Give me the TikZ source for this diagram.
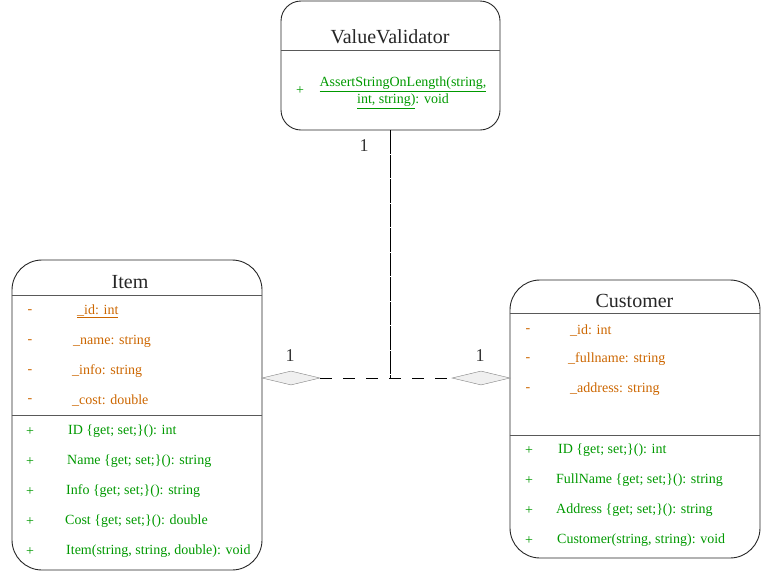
\documentclass[tikz,border=0pt]{standalone}
\usepackage{fontspec}
\setmainfont{Liberation Serif}
\usetikzlibrary{arrows.meta, calc, positioning, shapes.geometric}

\definecolor{attrorange}{HTML}{CC6600}
\definecolor{opgreen}{HTML}{009900}
\definecolor{edgegray}{HTML}{808080}

\tikzset{
  classbox/.style={draw=black!85, line width=0.9pt, inner sep=0pt},
  sepline/.style={draw=black!65, line width=1pt},
  classname/.style={font=\fontsize{20}{23}\selectfont, text=black!85},
  attr/.style={anchor=west, inner sep=0pt, yshift=-1.5pt, font=\fontsize{14}{17}\selectfont, text=attrorange},
  op/.style={attr, text=opgreen},
  vis/.style={anchor=center},
  aggr/.style={diamond, draw=edgegray, fill=gray!12, minimum width=58pt, minimum height=14pt, inner sep=0pt},
  mult/.style={font=\fontsize{18}{20}\selectfont, text=black!80},
  hline/.style={draw=black, line width=0.9pt, dash pattern=on 12pt off 11pt},
  vline/.style={draw=black, line width=0.9pt, dash pattern=on 23.5pt off 1pt},
}

\begin{document}
\begin{tikzpicture}[x=1pt, y=-1pt]

  \useasboundingbox (0,0) rectangle (770,571);

  % class boxes
  \node[classbox, rounded corners=20pt, minimum width=219pt, minimum height=129pt] (validator) at (390.5,65.5) {};
  \node[classbox, rounded corners=30pt, minimum width=250pt, minimum height=310pt] (item) at (137,415) {};
  \node[classbox, rounded corners=30pt, minimum width=250pt, minimum height=278pt] (customer) at (635,419) {};

  \draw[sepline] (validator.west |- 0,50) -- (validator.east |- 0,50);
  \draw[sepline] (item.west |- 0,295) -- (item.east |- 0,295);
  \draw[sepline] (item.west |- 0,415) -- (item.east |- 0,415);
  \draw[sepline] (customer.west |- 0,313) -- (customer.east |- 0,313);
  \draw[sepline] (customer.west |- 0,435) -- (customer.east |- 0,435);

  \node[classname] (validatorname) at (390,37) {ValueValidator};
  \node[classname] (itemname) at (130,282) {Item};
  \node[classname] (customername) at (634.5,301) {Customer};

  % ValueValidator
  \node[op, vis] (validatorvis) at (300,89) {+};
  \node[op, anchor=center, align=center] (validatorop) at (403,91)
    {\underline{AssertStringOnLength(string,}\\\underline{int, string)}: void};

  % Item
  \foreach \x/\y/\t [count=\i] in {77/310/{\underline{\_id: int}}, 73/340/{\_name: string},
      72/370/{\_info: string}, 72/399/{\_cost: double}}{
    \node[attr, vis] (itemattrvis\i) at (30,\y) {-};
    \node[attr] (itemattr\i) at (\x,\y) {\t};
  }
  \foreach \x/\y/\t [count=\i] in {68/430/{ID \{get; set;\}(): int}, 67/460/{Name \{get; set;\}(): string},
      66/490/{Info \{get; set;\}(): string}, 65/520/{Cost \{get; set;\}(): double},
      66/550/{Item(string, string, double): void}}{
    \node[op, vis] (itemopvis\i) at (30,\y) {+};
    \node[op] (itemop\i) at (\x,\y) {\t};
  }

  % Customer
  \foreach \x/\y/\t [count=\i] in {570/329/{\_id: int}, 568/358/{\_fullname: string},
      570/388/{\_address: string}}{
    \node[attr, vis] (custattrvis\i) at (528,\y) {-};
    \node[attr] (custattr\i) at (\x,\y) {\t};
  }
  \foreach \x/\y/\t [count=\i] in {558/449/{ID \{get; set;\}(): int}, 556/479/{FullName \{get; set;\}(): string},
      556/509/{Address \{get; set;\}(): string}, 557/539/{Customer(string, string): void}}{
    \node[op, vis] (custopvis\i) at (529,\y) {+};
    \node[op] (custop\i) at (\x,\y) {\t};
  }

  % aggregations
  \node[aggr] (itemdia) at (291,378) {};
  \node[aggr] (custdia) at (481,378) {};

  \draw[hline] (itemdia.east) -- (custdia.west);
  \draw[vline] (validator.south) -- (validator.south |- itemdia.east);

  \node[mult] (validatormult) at (364,146) {1};
  \node[mult] (itemmult) at (290,356) {1};
  \node[mult] (custmult) at (480,356) {1};

\end{tikzpicture}
\end{document}
